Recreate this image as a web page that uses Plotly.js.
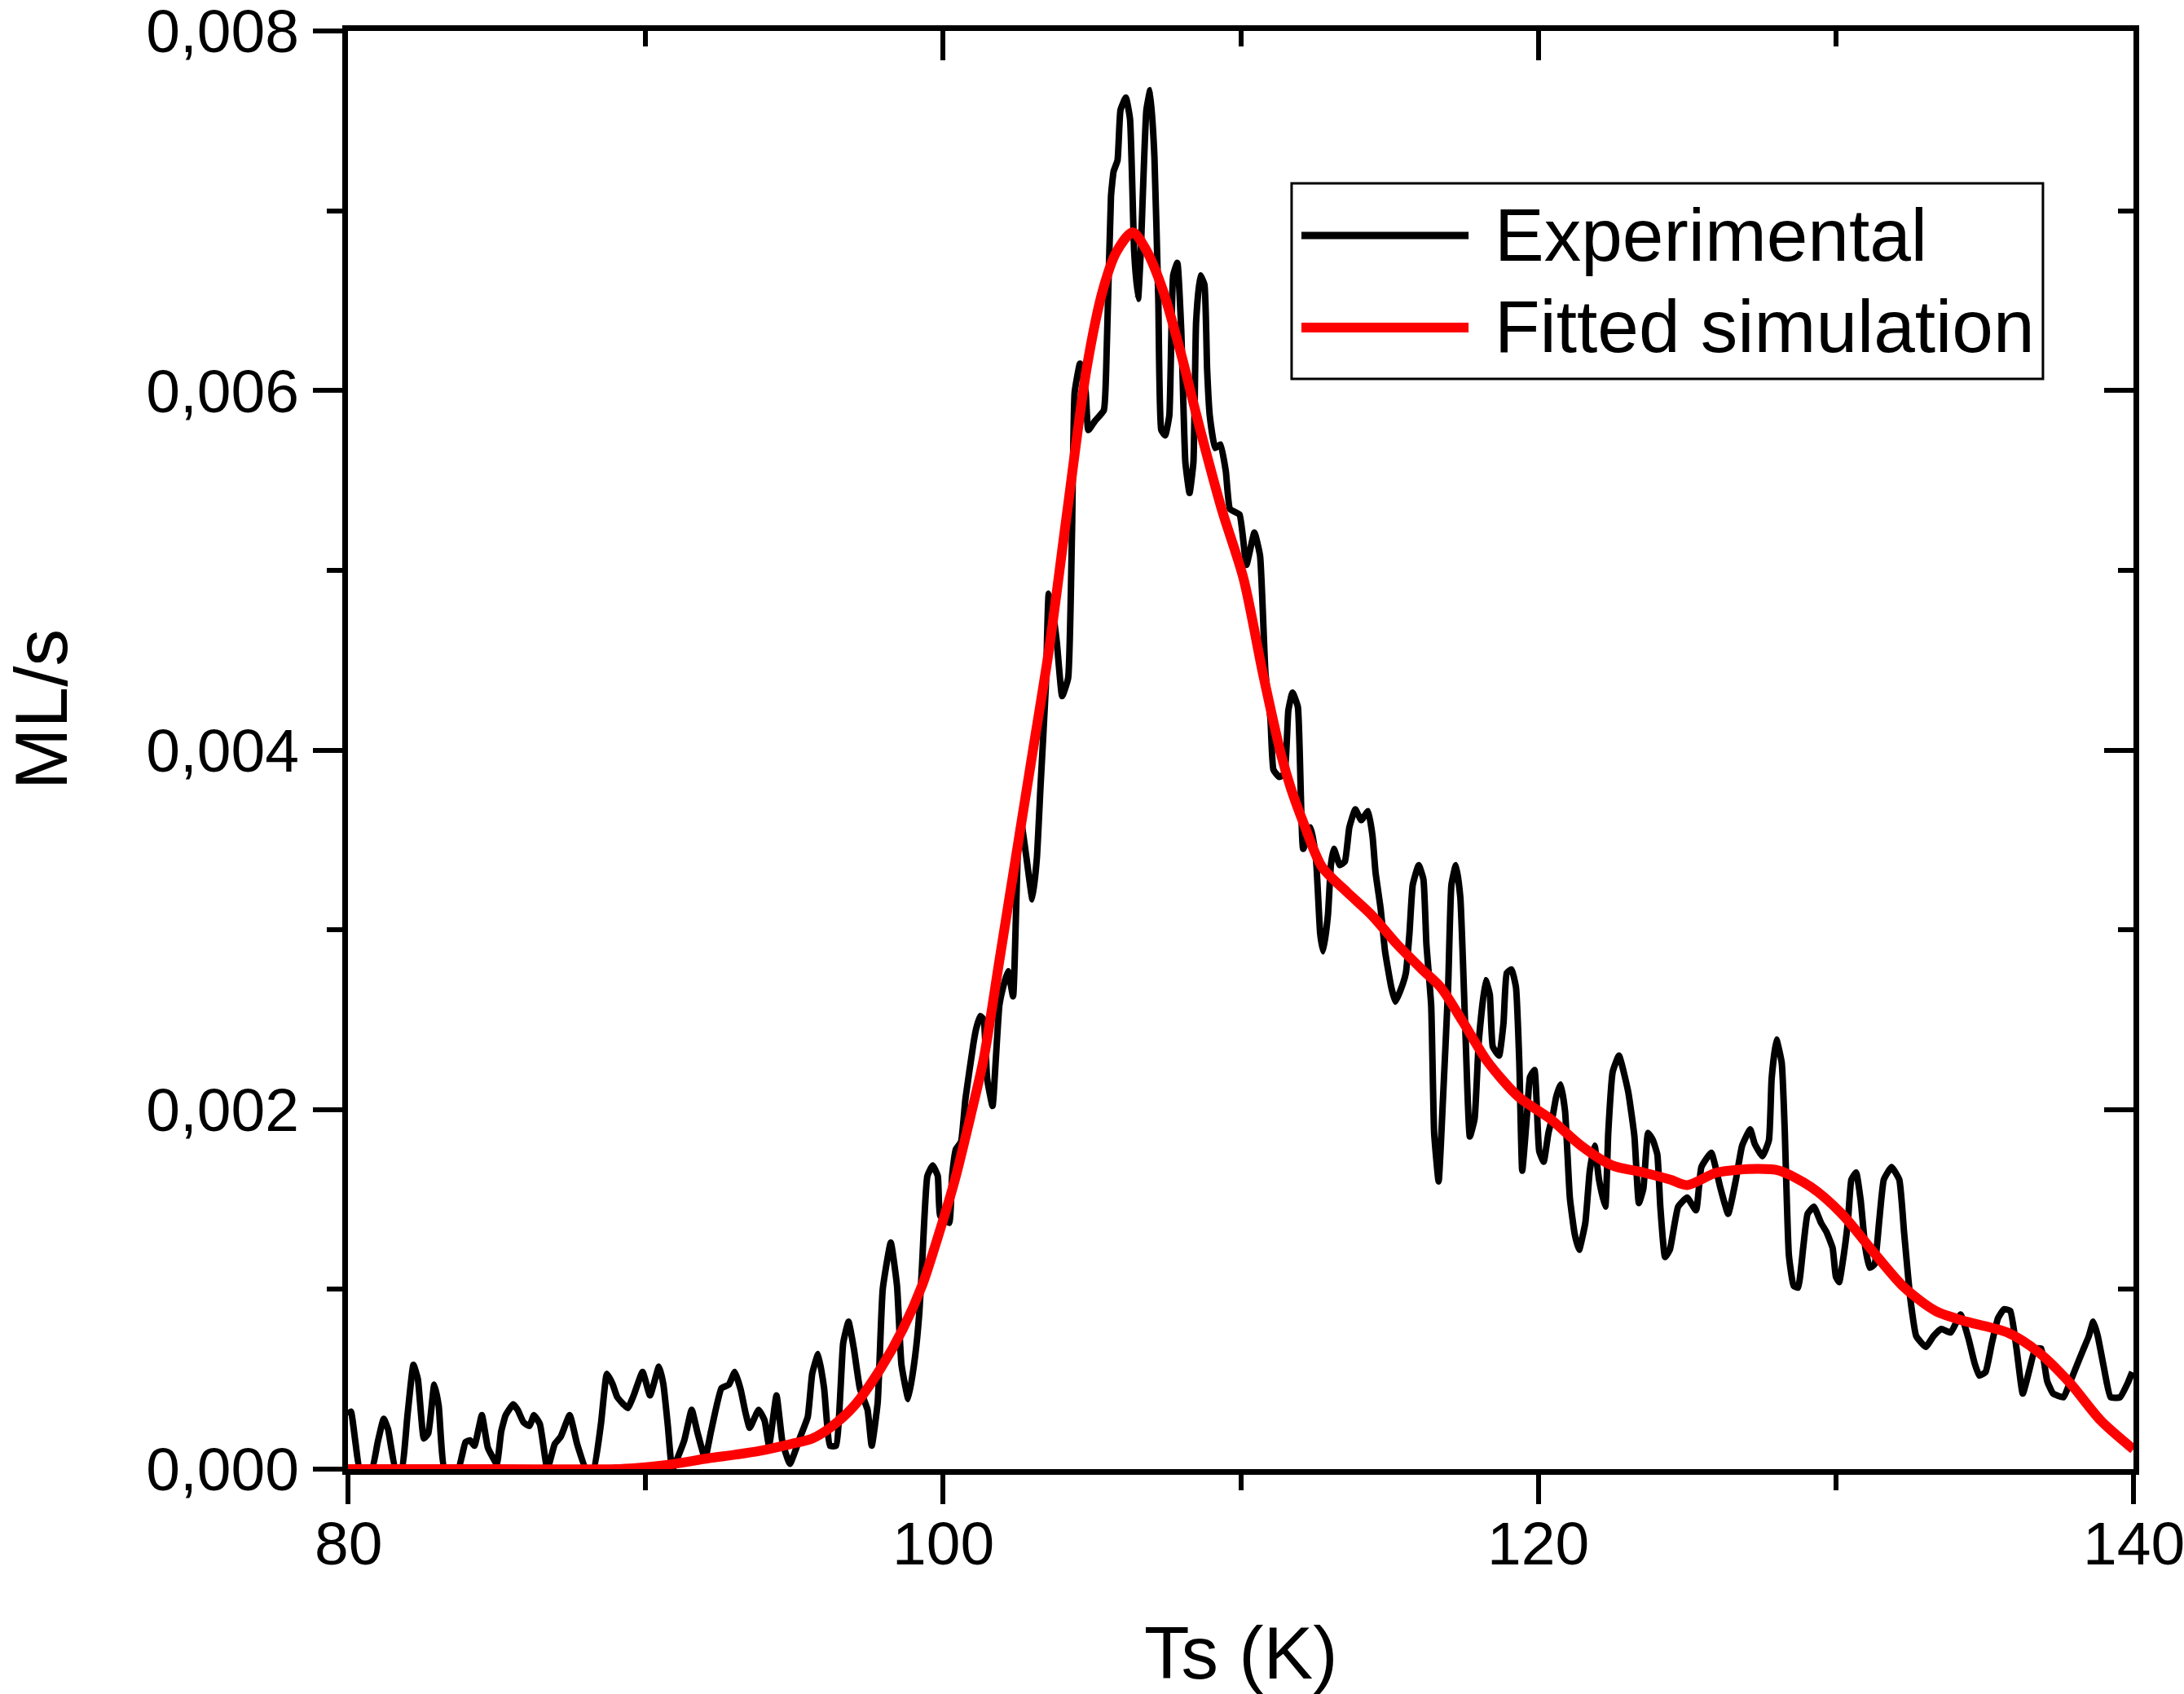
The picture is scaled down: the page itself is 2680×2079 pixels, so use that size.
<!DOCTYPE html>
<html>
<head>
<meta charset="utf-8">
<script src="https://cdn.plot.ly/plotly-3.0.1.min.js"></script>
<style>
  html, body { margin: 0; padding: 0; background: #fff; }
  #plot { width: 2680px; height: 2079px; }
</style>
</head>
<body>
<div id="plot"></div>
<script>
// experimental desorption rate
var tExp = [
  80.0, 80.1, 80.25, 80.4, 80.8, 81.0, 81.2, 81.35, 81.6, 81.8,
  82.0, 82.2, 82.35, 82.55, 82.7, 82.9, 83.05, 83.25, 83.7, 83.95,
  84.1, 84.25, 84.5, 84.7, 85.0, 85.15, 85.3, 85.55, 85.7, 85.9,
  86.1, 86.25, 86.45, 86.7, 86.95, 87.15, 87.45, 87.7, 88.0, 88.25,
  88.5, 88.7, 88.9, 89.05, 89.4, 89.6, 89.9, 90.15, 90.45, 90.6,
  90.75, 90.9, 91.3, 91.55, 91.75, 92.0, 92.2, 92.55, 92.8, 93.0,
  93.2, 93.35, 93.5, 93.8, 94.0, 94.15, 94.4, 94.6, 94.85, 95.2,
  95.45, 95.6, 95.8, 96.0, 96.2, 96.4, 96.64, 96.82, 97.0, 97.2,
  97.46, 97.6, 97.8, 97.97, 98.24, 98.45, 98.6, 98.83, 99.06, 99.2,
  99.29, 99.47, 99.65, 99.82, 99.9, 100.2, 100.3, 100.43, 100.6, 100.75,
  101.02, 101.11, 101.25, 101.36, 101.48, 101.66, 101.77, 101.89, 102.03, 102.18,
  102.35, 102.45, 102.54, 102.62, 102.8, 103.0, 103.15, 103.27, 103.45, 103.55,
  103.7, 103.82, 104.0, 104.2, 104.33, 104.42, 104.6, 104.79, 104.88, 105.1,
  105.4, 105.5, 105.64, 105.73, 105.86, 105.96, 106.14, 106.28, 106.42, 106.55,
  106.64, 106.83, 106.96, 107.1, 107.23, 107.33, 107.46, 107.6, 107.73, 107.87,
  108.0, 108.14, 108.28, 108.41, 108.5, 108.64, 108.78, 108.87, 108.96, 109.14,
  109.32, 109.5, 109.64, 109.96, 110.19, 110.46, 110.65, 110.83, 111.0, 111.1,
  111.3, 111.47, 111.6, 111.74, 111.92, 112.1, 112.35, 112.53, 112.67, 112.77,
  112.93, 113.03, 113.13, 113.33, 113.5, 113.65, 113.85, 114.05, 114.28, 114.43,
  114.53, 114.7, 114.85, 115.06, 115.2, 115.45, 115.55, 115.67, 115.78, 115.98,
  116.14, 116.24, 116.4, 116.5, 116.65, 116.8, 116.97, 117.08, 117.23, 117.38,
  117.54, 117.7, 117.86, 118.0, 118.23, 118.37, 118.47, 118.68, 118.83, 118.94,
  119.1, 119.25, 119.36, 119.46, 119.62, 119.72, 119.87, 120.03, 120.18, 120.34,
  120.49, 120.6, 120.75, 120.9, 121.06, 121.22, 121.37, 121.58, 121.73, 121.89,
  122.04, 122.25, 122.35, 122.5, 122.71, 123.02, 123.23, 123.38, 123.53, 123.69,
  123.85, 124.0, 124.1, 124.26, 124.42, 124.7, 125.0, 125.3, 125.48, 125.81,
  126.11, 126.38, 126.64, 126.85, 127.12, 127.27, 127.53, 127.75, 127.84, 128.0,
  128.18, 128.28, 128.42, 128.58, 128.73, 128.9, 129.05, 129.26, 129.5, 129.68,
  129.89, 130.0, 130.11, 130.2, 130.4, 130.52, 130.68, 130.83, 130.99, 131.14,
  131.3, 131.45, 131.61, 131.87, 132.13, 132.29, 132.4, 132.5, 132.7, 133.02,
  133.28, 133.54, 133.86, 134.19, 134.45, 134.66, 134.82, 135.03, 135.24, 135.45,
  135.65, 135.86, 136.07, 136.28, 136.5, 136.7, 136.9, 137.1, 137.3, 137.65,
  137.86, 138.08, 138.3, 138.5, 138.65, 138.8, 139.0, 139.23, 139.55, 139.81,
  139.96
];
var yExp = [
  0.00030, 0.00032, 0.00015, 0.0, 0.0, 0.00015, 0.00028, 0.00022, 0.0, 0.0,
  0.00030, 0.00058, 0.00050, 0.00017, 0.00020, 0.00047, 0.00035, 0.0, 0.0, 0.00015,
  0.00016, 0.00013, 0.00030, 0.00012, 0.00003, 0.00021, 0.00030, 0.00036, 0.00033, 0.00026,
  0.00024, 0.00030, 0.00025, 0.0, 0.00014, 0.00018, 0.00030, 0.00014, 0.0, 0.0,
  0.00025, 0.00053, 0.00047, 0.00040, 0.00034, 0.00041, 0.00054, 0.00041, 0.00057, 0.00047,
  0.00024, 0.0, 0.00016, 0.00033, 0.00020, 0.00006, 0.00021, 0.00045, 0.00047, 0.00054,
  0.00044, 0.00032, 0.00023, 0.00033, 0.00027, 0.00013, 0.00041, 0.00015, 0.00003, 0.00018,
  0.00029, 0.00053, 0.00064, 0.00045, 0.00013, 0.00013, 0.00070, 0.00082, 0.00067, 0.00045,
  0.00033, 0.00013, 0.00037, 0.00100, 0.00126, 0.00102, 0.00058, 0.00039, 0.00063, 0.00087,
  0.00113, 0.00163, 0.00169, 0.00163, 0.00141, 0.00137, 0.00163, 0.00178, 0.00182, 0.00206,
  0.00237, 0.00245, 0.00252, 0.00250, 0.00217, 0.00202, 0.00228, 0.00258, 0.00269, 0.00277,
  0.00263, 0.00310, 0.00355, 0.00360, 0.00340, 0.00317, 0.00340, 0.00379, 0.00435, 0.00487,
  0.00475, 0.00460, 0.00430, 0.00440, 0.00521, 0.00599, 0.00615, 0.00599, 0.00578, 0.00583,
  0.00589, 0.00625, 0.00708, 0.00722, 0.00728, 0.00756, 0.00763, 0.00751, 0.00677, 0.00651,
  0.00677, 0.00756, 0.00767, 0.00730, 0.00651, 0.00578, 0.00575, 0.00586, 0.00664, 0.00671,
  0.00634, 0.00560, 0.00543, 0.00560, 0.00638, 0.00664, 0.00659, 0.00612, 0.00586, 0.00568,
  0.00570, 0.00555, 0.00534, 0.00531, 0.00503, 0.00521, 0.00508, 0.00443, 0.00417, 0.00389,
  0.00385, 0.00387, 0.00422, 0.00432, 0.00424, 0.00345, 0.00357, 0.00339, 0.00298, 0.00288,
  0.00308, 0.00336, 0.00345, 0.00336, 0.00338, 0.00357, 0.00367, 0.00361, 0.00366, 0.00352,
  0.00332, 0.00312, 0.00288, 0.00268, 0.00260, 0.00270, 0.00276, 0.00298, 0.00325, 0.00336,
  0.00328, 0.00292, 0.00258, 0.00187, 0.00160, 0.00207, 0.00268, 0.00325, 0.00336, 0.00318,
  0.00248, 0.00185, 0.00195, 0.00238, 0.00272, 0.00264, 0.00235, 0.00230, 0.00248, 0.00276,
  0.00278, 0.00268, 0.00227, 0.00166, 0.00197, 0.00218, 0.00222, 0.00177, 0.00171, 0.00187,
  0.00197, 0.00207, 0.00214, 0.00199, 0.00151, 0.00131, 0.00122, 0.00137, 0.00166, 0.00180,
  0.00161, 0.00146, 0.00187, 0.00221, 0.00230, 0.00210, 0.00185, 0.00148, 0.00156, 0.00187,
  0.00183, 0.00175, 0.00146, 0.00118, 0.00122, 0.00146, 0.00151, 0.00144, 0.00168, 0.00176,
  0.00157, 0.00142, 0.00161, 0.00180, 0.00189, 0.00181, 0.00174, 0.00183, 0.00217, 0.00239,
  0.00226, 0.00189, 0.00119, 0.00102, 0.00101, 0.00123, 0.00142, 0.00146, 0.00137, 0.00132,
  0.00123, 0.00107, 0.00104, 0.00112, 0.00137, 0.00161, 0.00165, 0.00150, 0.00123, 0.00112,
  0.00114, 0.00137, 0.00161, 0.00168, 0.00161, 0.00132, 0.00112, 0.00095, 0.00074, 0.00068,
  0.00074, 0.00078, 0.00076, 0.00086, 0.00073, 0.00059, 0.00052, 0.00054, 0.00070, 0.00084,
  0.00089, 0.00088, 0.00067, 0.00042, 0.00055, 0.00067, 0.00067, 0.00049, 0.00042, 0.00040,
  0.00048, 0.00057, 0.00066, 0.00074, 0.00082, 0.00074, 0.00057, 0.00040, 0.00040, 0.00048,
  0.00054
];

// fitted simulation
var tFit = [
  80.0, 85.0, 89.0, 90.0, 91.0, 92.1, 93.0, 93.8, 94.9, 95.6,
  96.2, 97.0, 97.9, 98.65, 99.29, 99.84, 100.38, 100.93, 101.36, 101.9,
  102.45, 103.0, 103.55, 104.18, 104.82, 105.37, 105.82, 106.37, 106.83, 107.38,
  108.0, 108.64, 109.36, 110.1, 110.74, 111.38, 111.68, 112.12, 112.73, 113.57,
  114.41, 115.25, 116.09, 116.72, 117.46, 118.28, 119.34, 120.39, 121.43, 122.47,
  123.53, 124.44, 125.0, 126.0, 127.37, 128.1, 129.16, 130.2, 131.25, 132.3,
  133.35, 134.4, 135.76, 136.81, 137.86, 138.9, 140.0
];
var yFit = [
  0.0, 0.0, 0.0, 0.00001, 0.00003, 0.00006, 0.00008, 0.00010, 0.00014, 0.00017,
  0.00023, 0.00035, 0.00056, 0.00078, 0.00102, 0.00130, 0.00160, 0.00197, 0.00228, 0.00284,
  0.00341, 0.00398, 0.00455, 0.00534, 0.00612, 0.00656, 0.00677, 0.00688, 0.00678, 0.00656,
  0.00620, 0.00578, 0.00534, 0.00495, 0.00443, 0.00396, 0.00379, 0.00359, 0.00335, 0.00321,
  0.00308, 0.00292, 0.00278, 0.00268, 0.00249, 0.00227, 0.00207, 0.00195, 0.00180, 0.00169,
  0.00165, 0.00161, 0.00158, 0.00165, 0.00167, 0.00166, 0.00157, 0.00142, 0.00121, 0.00101,
  0.00088, 0.00082, 0.00076, 0.00065, 0.00048, 0.00027, 0.00011
];

var xTickVals = [80, 100, 120, 140];
var seriesNames = ["Experimental", "Fitted simulation"];
var seriesColors = ["#000000", "#ff0000"];

var FONT = "Liberation Sans, Arial, sans-serif";

var traces = [
  {
    x: tExp, y: yExp,
    type: "scatter", mode: "lines",
    name: seriesNames[0],
    line: {color: seriesColors[0], width: 8, shape: "spline", smoothing: 0.4},
    xaxis: "x", yaxis: "y",
    showlegend: false
  },
  {
    x: tFit, y: yFit,
    type: "scatter", mode: "lines",
    name: seriesNames[1],
    line: {color: seriesColors[1], width: 12, shape: "spline", smoothing: 0.8},
    xaxis: "x2", yaxis: "y2",
    showlegend: false
  }
];

// bottom / left axes: ticks outside
var xBase = {
  range: [80, 140],
  tick0: 80, dtick: 20,
  ticks: "outside", ticklen: 36, tickwidth: 6, tickcolor: "black",
  minor: {tick0: 80, dtick: 10, ticks: "outside", ticklen: 19, tickwidth: 6, tickcolor: "black", showgrid: false},
  showline: true, linewidth: 7, linecolor: "black",
  showgrid: false, zeroline: false,
  showticklabels: false
};
var yBase = {
  range: [0, 0.0080001],
  tick0: 0, dtick: 0.002,
  tickformat: ".3f",
  ticks: "outside", ticklen: 36, tickwidth: 6, tickcolor: "black",
  minor: {tick0: 0, dtick: 0.001, ticks: "outside", ticklen: 19, tickwidth: 6, tickcolor: "black", showgrid: false},
  showline: true, linewidth: 7, linecolor: "black",
  showgrid: false, zeroline: false,
  tickfont: {family: FONT, size: 75, color: "black"}
};

var tickFont = {family: FONT, size: 75, color: "black"};
var titleFont = {family: FONT, size: 91, color: "black"};

// x tick labels sit closer to the axis than plotly's default padding
var xLabelAnnotations = xTickVals.map(function(v) {
  return {xref: "x", yref: "paper", x: v, y: -0.0516, xanchor: "center", yanchor: "middle",
          text: String(v), showarrow: false, font: tickFont};
});

var layout = {
  width: 2680, height: 2079,
  margin: {l: 427, r: 62, t: 38, b: 276},
  paper_bgcolor: "white", plot_bgcolor: "white",
  separators: ",.",
  font: {family: FONT, color: "black"},
  showlegend: false,
  xaxis: Object.assign({}, xBase, {anchor: "y"}),
  yaxis: Object.assign({}, yBase, {anchor: "x", ticklabelstandoff: 2, ticklabeloverflow: "allow"}),
  // top / right mirror axes with inward ticks
  xaxis2: Object.assign({}, xBase, {
    overlaying: "x", anchor: "y2", side: "top",
    ticks: "inside",
    minor: Object.assign({}, xBase.minor, {ticks: "inside"})
  }),
  yaxis2: Object.assign({}, yBase, {
    overlaying: "y", anchor: "x2", side: "right",
    ticks: "inside",
    minor: Object.assign({}, yBase.minor, {ticks: "inside"}),
    showticklabels: false
  }),
  // boxed legend with long line samples
  shapes: [
    {type: "rect", xref: "paper", yref: "paper", x0: 0.5285, x1: 0.9493, y0: 0.7581, y1: 0.8941,
     line: {color: "black", width: 3}, fillcolor: "white", layer: "above"},
    {type: "line", xref: "paper", yref: "paper", x0: 0.534, x1: 0.6276, y0: 0.8578, y1: 0.8578,
     line: {color: seriesColors[0], width: 9}, layer: "above"},
    {type: "line", xref: "paper", yref: "paper", x0: 0.534, x1: 0.6276, y0: 0.7938, y1: 0.7938,
     line: {color: seriesColors[1], width: 12}, layer: "above"}
  ],
  annotations: [
    {xref: "paper", yref: "paper", x: 0.6413, y: 0.8578, xanchor: "left", yanchor: "middle",
     text: seriesNames[0], showarrow: false, font: titleFont},
    {xref: "paper", yref: "paper", x: 0.6413, y: 0.7945, xanchor: "left", yanchor: "middle",
     text: seriesNames[1], showarrow: false, font: titleFont},
    // axis titles
    {xref: "paper", yref: "paper", x: 0.5, y: -0.128, xanchor: "center", yanchor: "middle",
     text: "Ts (K)", showarrow: false, font: titleFont},
    {xref: "paper", yref: "paper", x: -0.172, y: 0.528, xanchor: "center", yanchor: "middle",
     text: "ML/s", textangle: -90, showarrow: false, font: titleFont}
  ].concat(xLabelAnnotations)
};

Plotly.newPlot("plot", traces, layout, {displayModeBar: false, staticPlot: true});
</script>
</body>
</html>
